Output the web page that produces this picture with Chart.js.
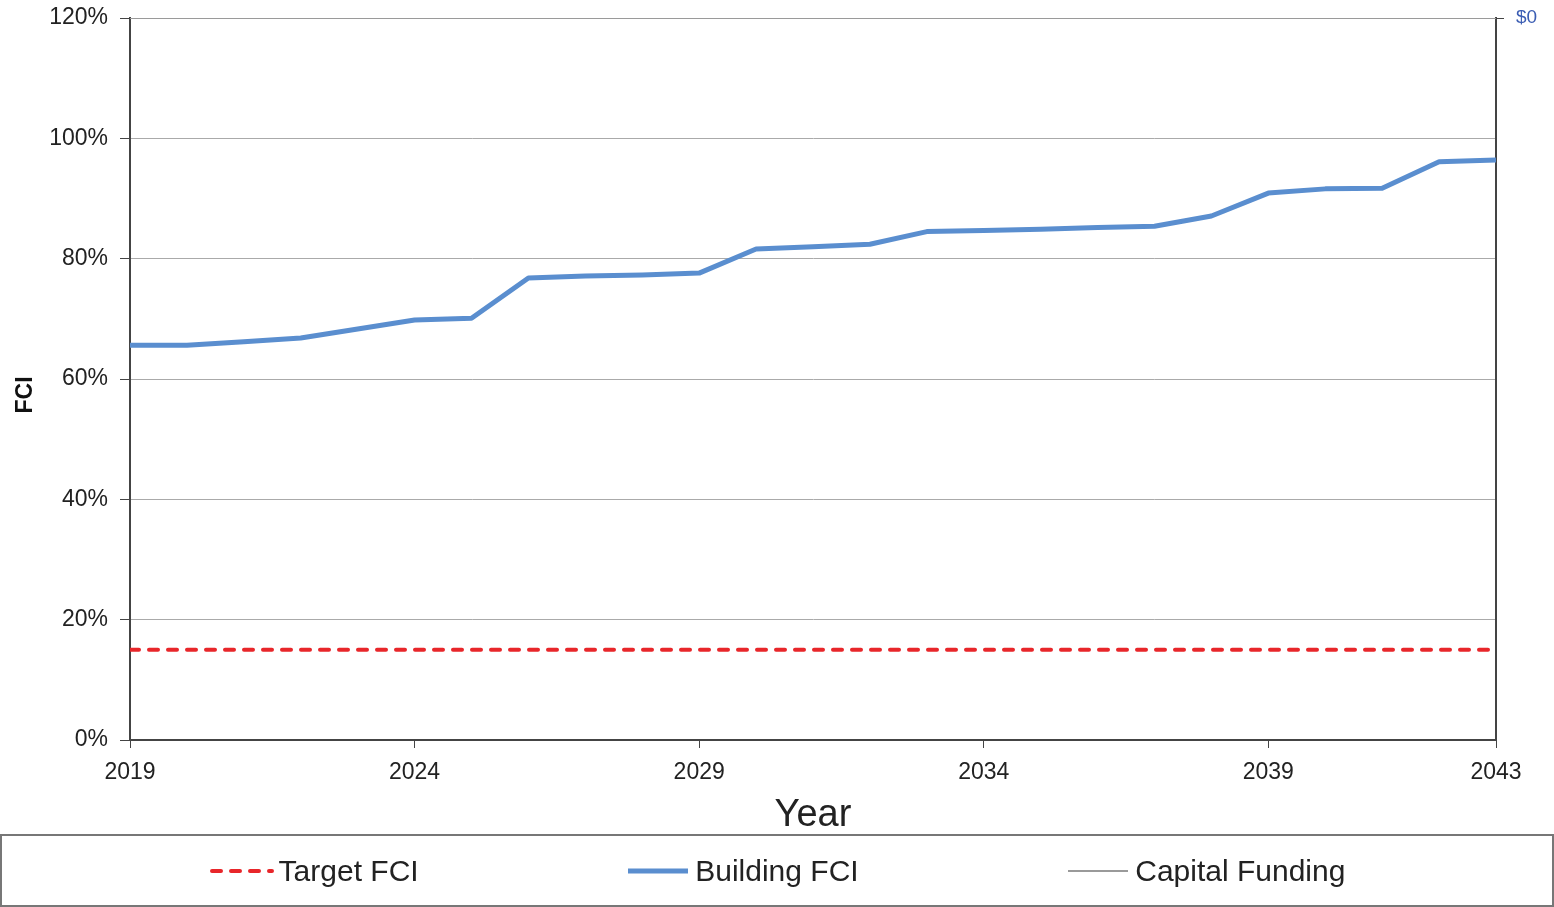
<!DOCTYPE html>
<html>
<head>
<meta charset="utf-8">
<script src="https://cdn.jsdelivr.net/npm/chart.js@4/dist/chart.umd.min.js"></script>
<style>
  body { margin: 0; background: #fff; font-family: "Liberation Sans", Arial, sans-serif; }
  #wrap { position: relative; width: 1554px; height: 907px; }
  #chart { position: absolute; left: 0; top: 0; }
  #legend {
    position: absolute; left: 0; top: 834px; width: 1554px; height: 73px;
    box-sizing: border-box; border: 2px solid #777;
    display: flex; justify-content: space-evenly; align-items: center;
  }
  .item { display: flex; align-items: center; font-size: 30px; color: #222; }
  .item svg { margin-right: 4px; }
</style>
</head>
<body>
<div id="wrap">
  <canvas id="chart" width="1554" height="835"></canvas>
  <div id="legend"></div>
</div>
<script>
const years = [2019, 2020, 2021, 2022, 2023, 2024, 2025, 2026, 2027, 2028, 2029, 2030,
  2031, 2032, 2033, 2034, 2035, 2036, 2037, 2038, 2039, 2040, 2041, 2042, 2043];
const buildingFci = [65.6, 65.6, 66.2, 66.8, 68.3, 69.8, 70.1, 76.8, 77.1, 77.3, 77.6, 81.6,
  82.0, 82.4, 84.5, 84.7, 84.9, 85.2, 85.4, 87.1, 90.9, 91.6, 91.7, 96.1, 96.4];
const targetFci = [15, 15, 15, 15, 15, 15, 15, 15, 15, 15, 15, 15,
  15, 15, 15, 15, 15, 15, 15, 15, 15, 15, 15, 15, 15];
const capitalFunding = [0, 0, 0, 0, 0, 0, 0, 0, 0, 0, 0, 0,
  0, 0, 0, 0, 0, 0, 0, 0, 0, 0, 0, 0, 0];
const xTicks = [2019, 2024, 2029, 2034, 2039, 2043];
const fciTicks = [0, 20, 40, 60, 80, 100, 120];
const fundingTicks = [0];

const font = 'Liberation Sans';
const axisColor = '#444';

function points(values) {
  return years.map((y, i) => ({ x: y, y: values[i] }));
}

// keep the plot box where it is in the original, labels may overflow
function noPad(axis) {
  axis.paddingTop = 0;
  axis.paddingBottom = 0;
  axis.paddingLeft = 0;
  axis.paddingRight = 0;
}

const chart = new Chart(document.getElementById('chart'), {
  type: 'line',
  data: {
    datasets: [
      {
        label: 'Target FCI',
        data: points(targetFci),
        yAxisID: 'y',
        borderColor: '#e8262a',
        borderWidth: 4,
        borderDash: [9, 10],
        borderCapStyle: 'round',
        pointRadius: 0
      },
      {
        label: 'Building FCI',
        data: points(buildingFci),
        yAxisID: 'y',
        borderColor: '#5a8ecf',
        borderWidth: 5,
        borderJoinStyle: 'round',
        pointRadius: 0
      },
      {
        label: 'Capital Funding',
        data: points(capitalFunding),
        yAxisID: 'y1',
        borderColor: '#9a9a9a',
        borderWidth: 2,
        pointRadius: 0
      }
    ]
  },
  options: {
    responsive: false,
    animation: false,
    devicePixelRatio: 1,
    layout: { padding: { top: 18, left: 0, right: 0, bottom: 0 } },
    plugins: {
      legend: { display: false },
      tooltip: { enabled: false }
    },
    scales: {
      x: {
        type: 'linear',
        min: 2019,
        max: 2043,
        afterBuildTicks: (axis) => { axis.ticks = xTicks.map((v) => ({ value: v })); },
        afterFit: (axis) => { axis.height = 95; noPad(axis); },
        grid: { drawOnChartArea: false, tickLength: 8, tickColor: axisColor },
        border: { color: axisColor, width: 2 },
        ticks: {
          color: '#222',
          font: { family: font, size: 23 },
          padding: 11,
          maxRotation: 0,
          callback: (v) => String(v)
        },
        title: {
          display: true,
          text: 'Year',
          color: '#222',
          font: { family: font, size: 38 },
          padding: { top: 5, bottom: -3 }
        }
      },
      y: {
        position: 'left',
        min: 0,
        max: 120,
        afterBuildTicks: (axis) => { axis.ticks = fciTicks.map((v) => ({ value: v })); },
        afterFit: (axis) => { axis.width = 130; noPad(axis); },
        grid: { color: '#aaa', lineWidth: 1, tickLength: 10, tickColor: axisColor },
        border: { color: axisColor, width: 2 },
        ticks: {
          color: '#222',
          font: { family: font, size: 23 },
          padding: 12,
          callback: (v) => v + '%'
        },
        title: {
          display: true,
          // trailing spaces nudge the rotated title down a little, as in the original
          text: 'FCI     ',
          color: '#111',
          font: { family: font, size: 23, weight: 'bold' },
          padding: { top: 12, bottom: 0 }
        }
      },
      y1: {
        position: 'right',
        min: -1,
        max: 0,
        afterBuildTicks: (axis) => { axis.ticks = fundingTicks.map((v) => ({ value: v })); },
        afterFit: (axis) => { axis.width = 58; noPad(axis); },
        grid: { drawOnChartArea: false, tickLength: 8, tickColor: axisColor },
        border: { color: axisColor, width: 2 },
        ticks: {
          color: '#3b5db3',
          font: { family: font, size: 19 },
          padding: 12,
          callback: (v) => '$' + v
        }
      }
    }
  }
});

// legend box under the chart, built from the datasets
const legend = document.getElementById('legend');
chart.data.datasets.forEach((ds) => {
  const item = document.createElement('div');
  item.className = 'item';
  const dash = ds.borderDash ? ds.borderDash.join(' ') : 'none';
  const cap = ds.borderCapStyle === 'round' ? 'round' : 'butt';
  item.innerHTML =
    '<svg width="66" height="10"><line x1="3" y1="5" x2="63" y2="5" stroke="' + ds.borderColor +
    '" stroke-width="' + ds.borderWidth + '" stroke-dasharray="' + dash +
    '" stroke-linecap="' + cap + '"/></svg><span>' + ds.label + '</span>';
  legend.appendChild(item);
});
</script>
</body>
</html>
